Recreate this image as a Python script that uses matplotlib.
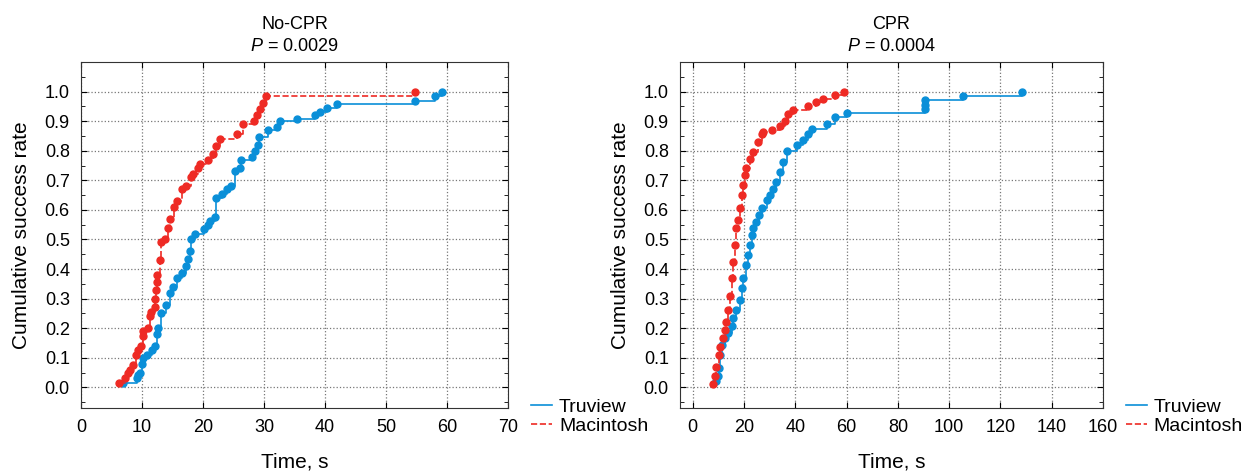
import numpy as np
import matplotlib
matplotlib.use("Agg")
import matplotlib.pyplot as plt
from matplotlib.ticker import MultipleLocator, FormatStrFormatter

plt.rcParams['font.family'] = ['Liberation Sans', 'DejaVu Sans']
plt.rcParams['mathtext.fontset'] = 'custom'
plt.rcParams['mathtext.rm'] = 'Liberation Sans'
plt.rcParams['mathtext.it'] = 'Liberation Sans:italic'

# No-CPR group (time in s, cumulative success rate)
nocpr_mac_t = [6.2, 7.2, 7.7, 8.1, 8.6, 9.1, 9.4, 9.9, 10.1, 10.2, 11.0, 11.3, 11.5,
               12.1, 12.2, 12.3, 12.4, 12.5, 13.0, 13.2, 13.8, 14.3, 14.6, 15.2,
               15.7, 16.5, 17.3, 18.0, 18.4, 19.2, 19.5, 20.9, 21.6, 22.2, 22.8,
               25.5, 26.6, 28.3, 28.8, 29.4, 29.9, 30.4, 54.8]
nocpr_mac_r = [0.013, 0.030, 0.047, 0.058, 0.075, 0.110, 0.126, 0.140, 0.175, 0.190,
               0.200, 0.240, 0.255, 0.270, 0.300, 0.330, 0.355, 0.380, 0.430, 0.490,
               0.500, 0.540, 0.570, 0.610, 0.630, 0.670, 0.680, 0.710, 0.720, 0.740,
               0.755, 0.770, 0.790, 0.815, 0.840, 0.856, 0.890, 0.900, 0.920, 0.940,
               0.960, 0.985, 1.000]
nocpr_tru_t = [6.9, 9.2, 9.4, 9.7, 10.0, 10.1, 10.8, 11.6, 12.1, 12.4, 12.7, 13.2,
               14.0, 14.6, 15.1, 15.7, 16.5, 17.3, 17.5, 17.8, 18.1, 18.7, 20.1,
               20.9, 21.2, 22.0, 22.2, 23.2, 24.0, 24.6, 25.2, 26.1, 26.3, 28.0,
               28.5, 29.0, 29.2, 30.7, 32.1, 32.6, 35.4, 38.4, 39.2, 40.3, 41.9,
               54.8, 58.0, 59.1]
nocpr_tru_r = [0.013, 0.030, 0.040, 0.050, 0.080, 0.100, 0.110, 0.126, 0.140, 0.180,
               0.200, 0.250, 0.280, 0.320, 0.340, 0.370, 0.385, 0.410, 0.435, 0.460,
               0.500, 0.520, 0.536, 0.550, 0.564, 0.575, 0.640, 0.654, 0.670, 0.680,
               0.730, 0.740, 0.770, 0.780, 0.800, 0.820, 0.845, 0.870, 0.880, 0.900,
               0.907, 0.920, 0.930, 0.946, 0.957, 0.968, 0.985, 1.000]

# CPR group
cpr_mac_t = [7.9, 8.6, 9.2, 10.3, 10.8, 11.8, 12.5, 13.1, 13.8, 14.4, 15.1, 15.5,
             16.4, 16.8, 17.7, 18.3, 19.0, 19.4, 20.3, 20.9, 22.2, 23.5, 25.5, 26.8,
             27.4, 30.7, 33.9, 35.9, 37.2, 39.2, 45.0, 48.0, 50.9, 55.4, 58.9]
cpr_mac_r = [0.011, 0.037, 0.070, 0.110, 0.138, 0.166, 0.194, 0.222, 0.262, 0.310,
             0.370, 0.425, 0.480, 0.537, 0.565, 0.605, 0.650, 0.683, 0.717, 0.740,
             0.773, 0.795, 0.830, 0.857, 0.863, 0.870, 0.885, 0.902, 0.925, 0.936,
             0.950, 0.964, 0.975, 0.989, 1.000]
cpr_tru_t = [9.2, 9.9, 10.3, 10.6, 11.2, 12.5, 13.8, 15.1, 15.7, 17.0, 18.3, 19.0,
             19.6, 20.9, 21.6, 22.2, 22.9, 23.5, 24.8, 25.9, 26.8, 28.8, 30.1, 31.3,
             32.6, 33.9, 35.3, 36.6, 40.5, 43.1, 45.0, 46.3, 52.2, 55.4, 60.0,
             90.5, 90.6, 90.7, 105.5, 128.3]
cpr_tru_r = [0.020, 0.037, 0.065, 0.110, 0.144, 0.166, 0.183, 0.206, 0.234, 0.262,
             0.296, 0.335, 0.370, 0.413, 0.447, 0.480, 0.515, 0.537, 0.560, 0.582,
             0.605, 0.633, 0.650, 0.672, 0.694, 0.728, 0.762, 0.800, 0.818, 0.835,
             0.857, 0.874, 0.891, 0.913, 0.928, 0.940, 0.955, 0.973, 0.984, 1.000]

panels = [
    ("No-CPR", "0.0029", nocpr_tru_t, nocpr_tru_r, nocpr_mac_t, nocpr_mac_r, (0, 70), 10),
    ("CPR", "0.0004", cpr_tru_t, cpr_tru_r, cpr_mac_t, cpr_mac_r, (-5, 160), 20),
]

blue = '#0a8fd8'
red = '#ee2a24'

fig = plt.figure(figsize=(12.59, 4.75), dpi=100)
positions = [[0.0643, 0.141, 0.3392, 0.7285], [0.5401, 0.141, 0.3360, 0.7285]]

for pos, (name, pval, tt, tr, mt, mr, xlim, xstep) in zip(positions, panels):
    ax = fig.add_axes(pos)
    ax.step(tt, tr, where='post', color=blue, lw=1.2, marker='o', ms=5,
            label='Truview')
    ax.step(mt, mr, where='post', color=red, lw=1.2, ls='--', marker='o', ms=5,
            label='Macintosh')
    ax.set_xlim(*xlim)
    ax.set_ylim(-0.07, 1.1)
    ax.set_xticks(np.arange(0, xlim[1] + 1, xstep))
    ax.set_yticks(np.arange(0, 1.01, 0.1))
    ax.yaxis.set_minor_locator(MultipleLocator(0.05))
    ax.yaxis.set_major_formatter(FormatStrFormatter('%.1f'))
    ax.grid(True, ls=':', color='#777777', lw=0.9)
    ax.tick_params(direction='in', top=True, right=True, labelsize=13, length=4, pad=8)
    ax.tick_params(which='minor', direction='in', right=True, left=True, length=3)
    for s in ax.spines.values():
        s.set_color('#333333')
    ax.set_title(name + "\n$P$ = " + pval, fontsize=13, pad=8, linespacing=1.4)
    ax.set_ylabel("Cumulative success rate", fontsize=15, labelpad=10)
    ax.set_xlabel("Time, s", fontsize=15, labelpad=12)
    ax.legend(loc='upper left', bbox_to_anchor=(1.035, 0.05), frameon=False,
              fontsize=14, handlelength=1.1, handletextpad=0.35, labelspacing=0.05,
              borderaxespad=0, markerscale=0)

plt.savefig("out.png", dpi=100)
